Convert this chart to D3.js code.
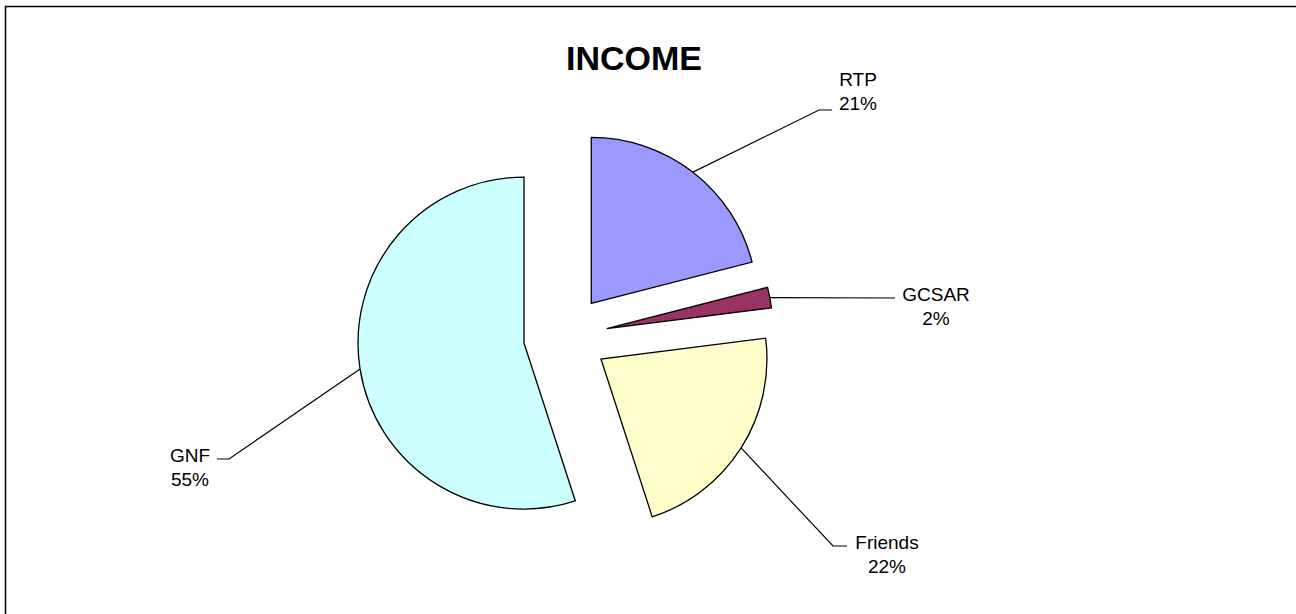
<!DOCTYPE html>
<html>
<head>
<meta charset="utf-8">
<script src="https://cdn.jsdelivr.net/npm/d3@7/dist/d3.min.js"></script>
<style>
  html, body { margin: 0; padding: 0; background: #ffffff; }
  svg { display: block; }
  text { font-family: "Liberation Sans", Arial, sans-serif; fill: #000; }
</style>
</head>
<body>
<svg id="chart" width="1296" height="614"></svg>
<script>
// ---- data ----
const categories = ["RTP", "GCSAR", "Friends", "GNF"];
const values = [21, 2, 22, 55];
const percentLabels = ["21%", "2%", "22%", "55%"];
const colors = ["#9999FF", "#993366", "#FFFFCC", "#CCFFFF"];
const title = "INCOME";

// ---- layout ----
const W = 1296, H = 614;
const cx = 565.5, cy = 336.5, R = 166, explode = 42;
// label anchor (text centre x, first baseline y) and elbow points for leaders
const labelLayout = [
  { x: 858, y: 86,  line: [[819, 110], [832, 110]] },
  { x: 936, y: 301, line: [[895, 298]] },
  { x: 887, y: 549, line: [[833, 546], [847, 546]] },
  { x: 190, y: 462, line: [[229, 459], [217, 459]] }
];

const svg = d3.select("#chart");

svg.append("rect")
  .attr("x", 5.5).attr("y", 6.5)
  .attr("width", 1400).attr("height", 700)
  .attr("fill", "none").attr("stroke", "#000").attr("stroke-width", 1.5);

svg.append("text")
  .attr("x", 634).attr("y", 70)
  .attr("text-anchor", "middle")
  .style("font-size", "34px").style("font-weight", "bold")
  .text(title);

const data = categories.map((c, i) => ({ name: c, value: values[i], pct: percentLabels[i], color: colors[i] }));
const pie = d3.pie().value(d => d.value).sort(null).startAngle(0).endAngle(2 * Math.PI);
const arcs = pie(data);
const arcGen = d3.arc().innerRadius(0).outerRadius(R);

const g = svg.append("g").attr("transform", `translate(${cx},${cy})`);

arcs.forEach((a, i) => {
  const mid = (a.startAngle + a.endAngle) / 2;
  const ox = explode * Math.sin(mid), oy = -explode * Math.cos(mid);
  g.append("path")
    .attr("d", arcGen(a))
    .attr("transform", `translate(${ox},${oy})`)
    .attr("fill", a.data.color)
    .attr("stroke", "#000")
    .attr("stroke-width", 1.3)
    .attr("stroke-linejoin", "miter");

  // leader line from arc midpoint
  const sx = cx + ox + R * Math.sin(mid), sy = cy + oy - R * Math.cos(mid);
  const L = labelLayout[i];
  const pts = [[sx, sy]].concat(L.line);
  svg.append("path")
    .attr("d", d3.line()(pts))
    .attr("fill", "none").attr("stroke", "#000").attr("stroke-width", 1.2);

  const t = svg.append("text")
    .attr("text-anchor", "middle")
    .style("font-size", "19px");
  t.append("tspan").attr("x", L.x).attr("y", L.y).text(a.data.name);
  t.append("tspan").attr("x", L.x).attr("y", L.y + 24).text(a.data.pct);
});
</script>
</body>
</html>
